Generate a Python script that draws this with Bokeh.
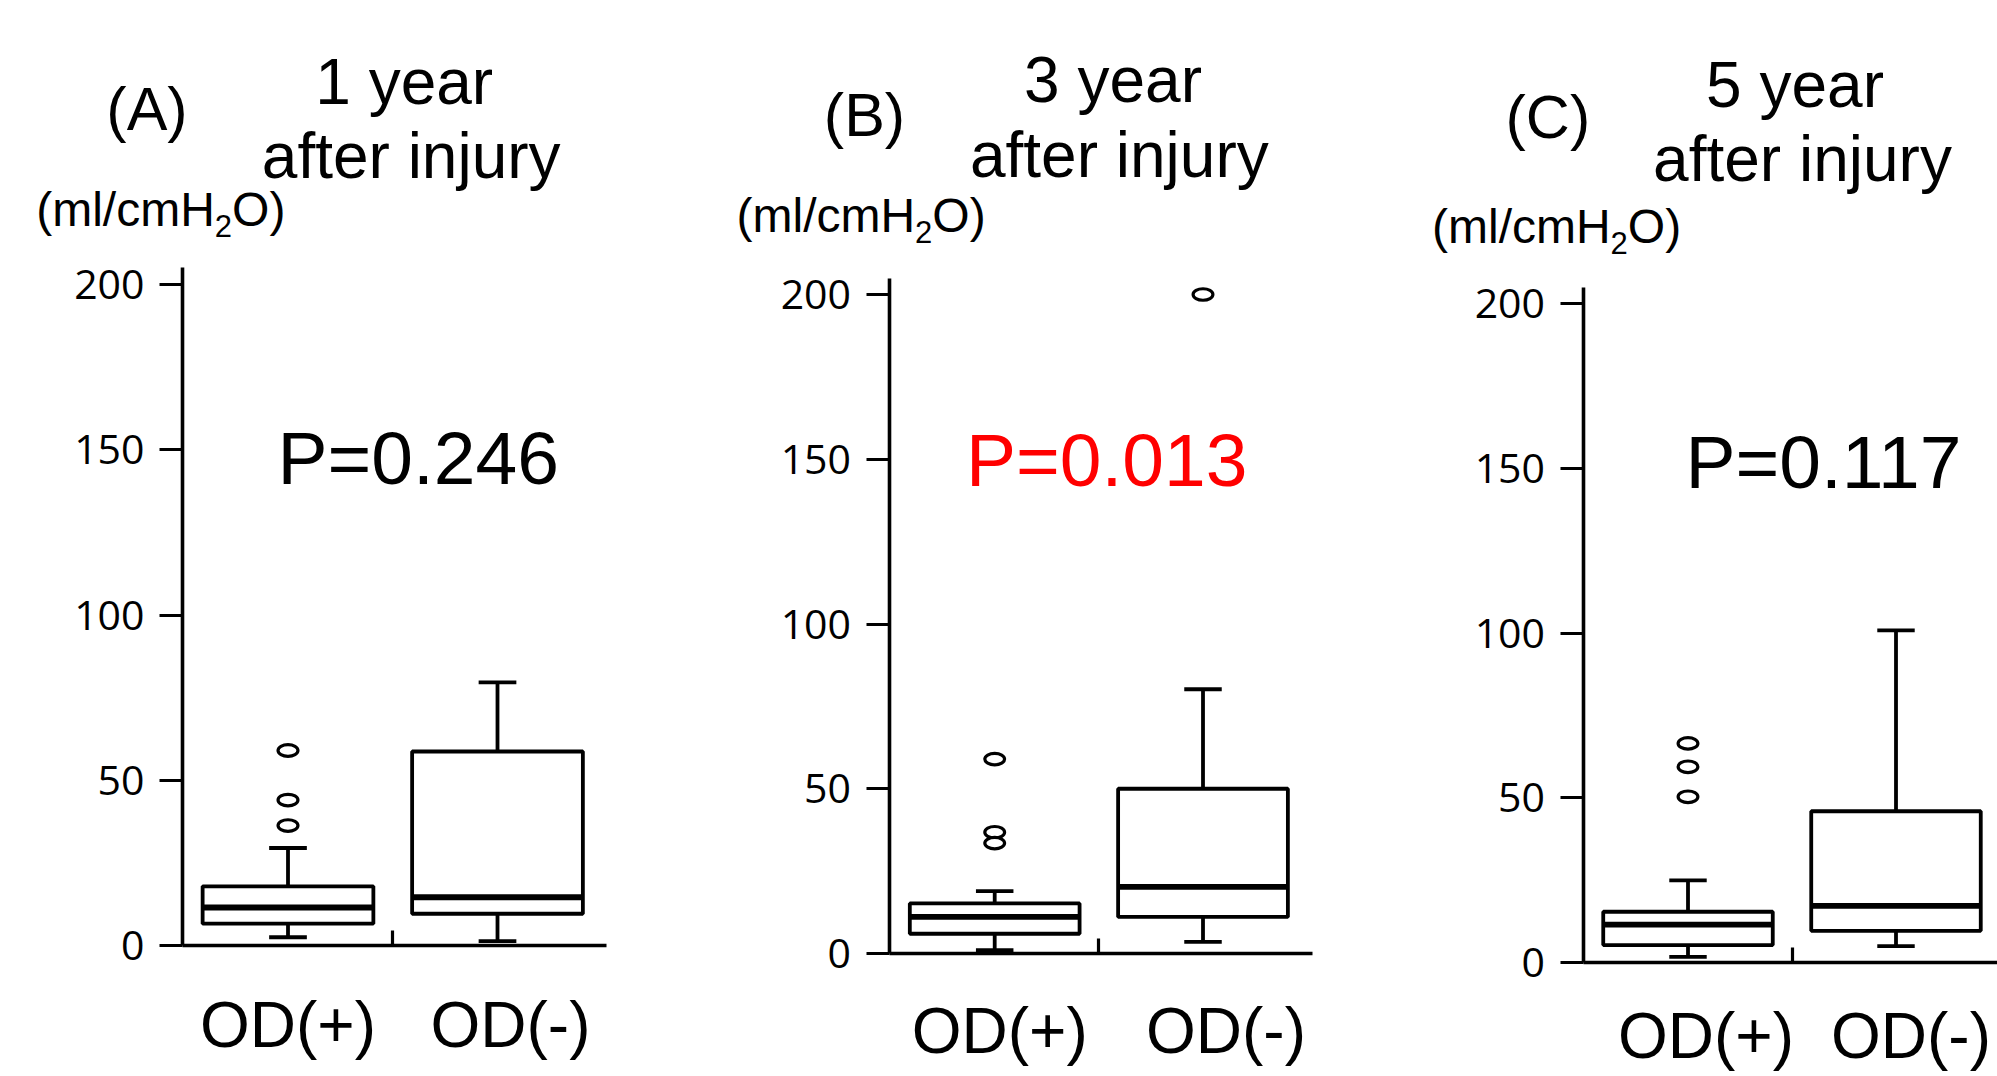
from bokeh.plotting import figure
from bokeh.layouts import row
from bokeh.models import Label, FixedTicker, Range1d
from bokeh.embed import file_html
from bokeh.resources import INLINE

# ---------------- data ----------------
categories = ["OD(+)", "OD(-)"]
positions = [1, 2]
y_ticks = [0, 50, 100, 150, 200]
y_axis_top = 205

panel_letters = ["(A)", "(B)", "(C)"]
panel_years = ["1 year", "3 year", "5 year"]
subtitle = "after injury"
unit_parts = ["(ml/cmH", "2", "O)"]
p_texts = ["P=0.246", "P=0.013", "P=0.117"]
p_colors = ["black", "#ff0000", "black"]

# 1 year after injury  [OD(+), OD(-)]
y1_lower = [2.5, 1.3]
y1_q1 = [6.6, 9.6]
y1_median = [11.5, 14.6]
y1_q3 = [17.9, 58.7]
y1_upper = [29.5, 79.6]
y1_outliers_plus = [59.0, 44.0, 36.3]
y1_outliers_minus = []

# 3 year after injury
y3_lower = [1.0, 3.5]
y3_q1 = [6.0, 11.1]
y3_median = [11.1, 20.2]
y3_q3 = [15.2, 50.0]
y3_upper = [18.9, 80.2]
y3_outliers_plus = [59.0, 36.8, 33.5]
y3_outliers_minus = [200.0]

# 5 year after injury
y5_lower = [1.7, 5.0]
y5_q1 = [5.3, 9.6]
y5_median = [11.5, 17.2]
y5_q3 = [15.4, 45.9]
y5_upper = [24.9, 100.8]
y5_outliers_plus = [66.5, 59.4, 50.3]
y5_outliers_minus = []

panels_data = [
    (y1_lower, y1_q1, y1_median, y1_q3, y1_upper, y1_outliers_plus, y1_outliers_minus),
    (y3_lower, y3_q1, y3_median, y3_q3, y3_upper, y3_outliers_plus, y3_outliers_minus),
    (y5_lower, y5_q1, y5_median, y5_q3, y5_upper, y5_outliers_plus, y5_outliers_minus),
]

# ---------------- layout (page pixels) ----------------
FIG_H = 1072
layouts = [
    dict(off=0, width=700, c1=287.5, pxu=209.5, y0=945, ypu=3.305, ax=182, axr=606, standoff=43,
         label_shift=(0, 13),
         letter=(146.5, 130), year=(403.7, 104), sub=(410.7, 178), unit=(35.7, 226), p=(277, 483)),
    dict(off=700, width=690, c1=994.2, pxu=208.3, y0=953, ypu=3.295, ax=888.5, axr=1311.5, standoff=41,
         label_shift=(5, 23),
         letter=(864, 136), year=(1112.5, 102), sub=(1118.8, 177), unit=(736, 232), p=(965.5, 485)),
    dict(off=1390, width=607, c1=1687.5, pxu=208.0, y0=962, ypu=3.295, ax=1582.5, axr=1997, standoff=37,
         label_shift=(18, 15),
         letter=(1547.4, 138), year=(1794.5, 107), sub=(1802, 181), unit=(1431.5, 243), p=(1685, 487.5)),
]

FONT = "Liberation Sans"
TICK_FONT = "Open Sans"
BOX_W = 0.815
CAP_W = 0.18
LW = 3.8
MID = 0.3465  # baseline -> middle of text box, in em
SZ_LETTER = 61
SZ_TITLE = 64
SZ_UNIT = 48
SZ_SUB = 31
SZ_P = 75


def lbl(p, lay, px, py, text, size, color="black", align="center"):
    sx = px - lay["off"]
    sy = FIG_H - (py - MID * size)
    p.add_layout(Label(x=sx, y=sy, x_units="screen", y_units="screen", text=text,
                       text_font=FONT, text_font_size=f"{size}px", text_color=color,
                       text_align=align, text_baseline="middle"))


figs = []
for i, (lay, data) in enumerate(zip(layouts, panels_data)):
    lower, q1, med, q3, upper, out_plus, out_minus = data
    x_start = 1 - (lay["c1"] - lay["off"]) / lay["pxu"]
    x_end = x_start + lay["width"] / lay["pxu"]
    y_start = -(FIG_H - lay["y0"]) / lay["ypu"]
    y_end = lay["y0"] / lay["ypu"]
    ax_x = 1 - (lay["c1"] - lay["ax"]) / lay["pxu"]
    ax_r = 1 + (lay["axr"] - lay["c1"]) / lay["pxu"]

    p = figure(width=lay["width"], height=FIG_H,
               x_range=Range1d(x_start, x_end), y_range=Range1d(y_start, y_end),
               output_backend="svg", toolbar_location=None,
               min_border_left=0, min_border_right=0, min_border_top=0, min_border_bottom=0)
    p.frame_align = False
    p.outline_line_color = None
    p.grid.visible = False
    p.background_fill_color = "white"
    p.border_fill_color = "white"

    # y axis
    yax = p.yaxis[0]
    yax.fixed_location = ax_x
    yax.bounds = (0, y_axis_top)
    yax.ticker = FixedTicker(ticks=y_ticks)
    yax.major_tick_out = 23
    yax.major_tick_in = 0
    yax.major_tick_line_width = 3.2
    yax.minor_tick_line_color = None
    yax.axis_line_width = 3.6
    yax.major_label_text_font = TICK_FONT
    yax.major_label_text_font_size = "41px"
    yax.major_label_text_color = "black"
    yax.major_label_standoff = 15

    # x axis (category labels sit slightly right of the box centres, as in the original)
    label_pos = [x + s / lay["pxu"] for x, s in zip(positions, lay["label_shift"])]
    xax = p.xaxis[0]
    xax.fixed_location = 0
    xax.bounds = (ax_x, ax_r)
    xax.ticker = FixedTicker(ticks=label_pos, minor_ticks=[1.5])
    xax.major_label_overrides = dict(zip(label_pos, categories))
    xax.major_tick_in = 0
    xax.major_tick_out = 0
    xax.minor_tick_in = 15
    xax.minor_tick_out = 0
    xax.minor_tick_line_width = 3.2
    xax.axis_line_width = 3.6
    xax.major_label_text_font = FONT
    xax.major_label_text_font_size = "64px"
    xax.major_label_text_color = "black"
    xax.major_label_standoff = lay["standoff"]

    # whiskers
    p.segment(x0=positions, x1=positions, y0=q3, y1=upper, line_color="black", line_width=LW)
    p.segment(x0=positions, x1=positions, y0=q1, y1=lower, line_color="black", line_width=LW)
    # caps
    p.segment(x0=[x - CAP_W / 2 for x in positions], x1=[x + CAP_W / 2 for x in positions],
              y0=upper, y1=upper, line_color="black", line_width=LW)
    p.segment(x0=[x - CAP_W / 2 for x in positions], x1=[x + CAP_W / 2 for x in positions],
              y0=lower, y1=lower, line_color="black", line_width=LW)
    # boxes
    p.vbar(x=positions, width=BOX_W, top=q3, bottom=q1, fill_color="white",
           line_color="black", line_width=LW)
    # medians
    p.segment(x0=[x - BOX_W / 2 for x in positions], x1=[x + BOX_W / 2 for x in positions],
              y0=med, y1=med, line_color="black", line_width=5.8)
    # outliers
    ox = [positions[0]] * len(out_plus) + [positions[1]] * len(out_minus)
    oy = list(out_plus) + list(out_minus)
    if oy:
        p.ellipse(x=ox, y=oy, width=0.095, height=3.5, fill_color="white",
                  line_color="black", line_width=3.2)

    # texts
    lbl(p, lay, *lay["letter"], panel_letters[i], SZ_LETTER)
    lbl(p, lay, *lay["year"], panel_years[i], SZ_TITLE)
    lbl(p, lay, *lay["sub"], subtitle, SZ_TITLE)
    ux, uy = lay["unit"]
    w0 = 3.721 * SZ_UNIT
    lbl(p, lay, ux, uy, unit_parts[0], SZ_UNIT, align="left")
    lbl(p, lay, ux + w0, uy + 10, unit_parts[1], SZ_SUB, align="left")
    lbl(p, lay, ux + w0 + 0.556 * SZ_SUB, uy, unit_parts[2], SZ_UNIT, align="left")
    lbl(p, lay, *lay["p"], p_texts[i], SZ_P, color=p_colors[i], align="left")

    figs.append(p)

layout = row(*figs)
open("out.html", "w").write(file_html(layout, INLINE))
